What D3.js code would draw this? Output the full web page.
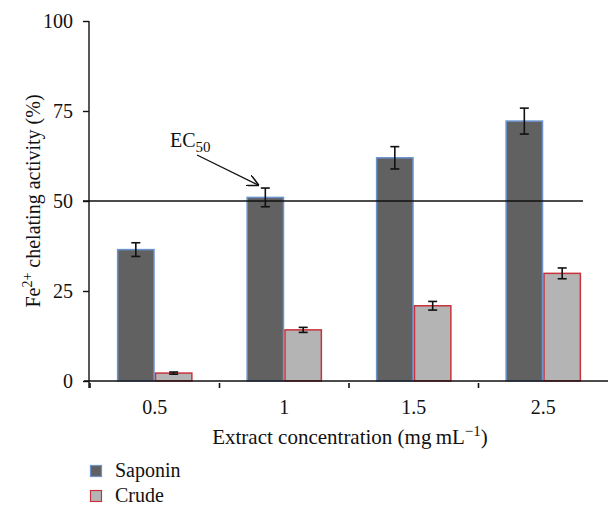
<!DOCTYPE html>
<html>
<head>
<meta charset="utf-8">
<script src="https://cdn.jsdelivr.net/npm/d3@7"></script>
<style>
body{margin:0;background:#fff;}
text{font-family:"Liberation Serif","DejaVu Serif",serif;fill:#111;}
</style>
</head>
<body>
<div id="plot"></div>
<script>
// chart values
var concentrations = ['0.5','1','1.5','2.5'];
var series = ['Saponin','Crude'];
var saponin = [36.5, 51, 62, 72.2];
var saponinErr = [1.9, 2.6, 3.1, 3.6];
var crude = [2.2, 14.2, 20.9, 29.9];
var crudeErr = [0.3, 0.7, 1.2, 1.5];
var yTicks = [0,25,50,75,100];
var ec50 = 50;

var W = 608, H = 505;
var margin = {t:21,l:89,b:124};
var serif = 'Liberation Serif, DejaVu Serif, serif';
var fills = {Saponin:'#616161', Crude:'#b4b4b4'};
var strokes = {Saponin:'#6a93cf', Crude:'#c8323c'};

var svg = d3.select('#plot').append('svg')
	.attr('width',W).attr('height',H);

var y = d3.scaleLinear().domain([0,100]).range([H-margin.b, margin.t]);
var x = d3.scaleBand().domain(concentrations).range([90, 608]).paddingInner(0).paddingOuter(0);
var xs = d3.scaleBand().domain(series).range([0, x.bandwidth()]).paddingInner(0).paddingOuter(0.71);

var rows = concentrations.map(function(c,i){
	return [
		{c:c, s:'Saponin', v:saponin[i], e:saponinErr[i]},
		{c:c, s:'Crude', v:crude[i], e:crudeErr[i]}
	];
});

// bars
var g = svg.selectAll('.grp').data(rows).enter().append('g')
	.attr('transform',function(d){return 'translate('+x(d[0].c)+',0)';});

g.selectAll('rect').data(function(d){return d;}).enter().append('rect')
	.attr('x',function(d){return xs(d.s)+0.75;})
	.attr('width',xs.bandwidth()-1.5)
	.attr('y',function(d){return y(d.v);})
	.attr('height',function(d){return y(0)-y(d.v);})
	.attr('fill',function(d){return fills[d.s];})
	.attr('stroke',function(d){return strokes[d.s];})
	.attr('stroke-width',1.5);

// error bars
var eb = g.selectAll('.err').data(function(d){return d;}).enter().append('g')
	.attr('class','err')
	.attr('stroke','#111').attr('stroke-width',1.6);
eb.append('line')
	.attr('x1',function(d){return xs(d.s)+xs.bandwidth()/2;})
	.attr('x2',function(d){return xs(d.s)+xs.bandwidth()/2;})
	.attr('y1',function(d){return y(d.v+d.e);})
	.attr('y2',function(d){return y(d.v-d.e);});
eb.selectAll('.cap').data(function(d){return [{d:d,v:d.v+d.e},{d:d,v:d.v-d.e}];}).enter().append('line')
	.attr('x1',function(k){return xs(k.d.s)+xs.bandwidth()/2-4.5;})
	.attr('x2',function(k){return xs(k.d.s)+xs.bandwidth()/2+4.5;})
	.attr('y1',function(k){return y(k.v);})
	.attr('y2',function(k){return y(k.v);});

// EC50 line
svg.append('line')
	.attr('x1',83).attr('x2',583)
	.attr('y1',y(ec50)).attr('y2',y(ec50))
	.attr('stroke','#111').attr('stroke-width',1.4);

// y axis
var yAxis = svg.append('g')
	.attr('transform','translate('+margin.l+',0)')
	.call(d3.axisLeft(y).tickValues(yTicks).tickSize(6).tickPadding(10));
yAxis.select('.domain').attr('d','M0,'+y(100)+'V'+(y(0)+7));
yAxis.selectAll('line').attr('stroke','#111').attr('stroke-width',1.4);
yAxis.select('.domain').attr('stroke','#111').attr('stroke-width',1.4);
yAxis.selectAll('text').attr('font-size',20).attr('font-family',serif).attr('fill','#111');

// x axis
var xAxis = svg.append('g')
	.attr('transform','translate(0,'+y(0)+')')
	.call(d3.axisBottom(x).tickSize(0).tickPadding(19));
xAxis.select('.domain').attr('d','M84,0H608').attr('stroke','#111').attr('stroke-width',1.4);
xAxis.selectAll('text').attr('font-size',20).attr('font-family',serif).attr('fill','#111');
xAxis.selectAll('.sep').data(concentrations).enter().append('line')
	.attr('class','sep')
	.attr('x1',function(d){return x(d);}).attr('x2',function(d){return x(d);})
	.attr('y1',2).attr('y2',7)
	.attr('stroke','#111').attr('stroke-width',1.6);

// axis titles
svg.append('text')
	.attr('x',350).attr('y',444)
	.attr('text-anchor','middle').attr('font-size',21).attr('font-family',serif)
	.html('Extract concentration (mg\u2009mL<tspan dy="-8" font-size="15">\u22121</tspan><tspan dy="8">)</tspan>');

svg.append('text')
	.attr('transform','translate(40,201) rotate(-90)')
	.attr('text-anchor','middle').attr('font-size',20).attr('font-family',serif)
	.html('Fe<tspan dy="-8" font-size="14">2+</tspan><tspan dy="8"> chelating activity (%)</tspan>');

// EC50 annotation
svg.append('defs').append('marker')
	.attr('id','arr').attr('viewBox','0 0 10 10')
	.attr('refX',9).attr('refY',5)
	.attr('markerWidth',9).attr('markerHeight',9)
	.attr('orient','auto')
	.append('path').attr('d','M0,0L10,5L0,10')
	.attr('fill','none').attr('stroke','#111').attr('stroke-width',1.3);

svg.append('line')
	.attr('x1',197).attr('y1',155)
	.attr('x2',258).attr('y2',185)
	.attr('stroke','#111').attr('stroke-width',1.3)
	.attr('marker-end','url(#arr)');

svg.append('text')
	.attr('x',170).attr('y',147).attr('font-size',20).attr('font-family',serif)
	.html('EC<tspan dy="5" font-size="15">50</tspan>');

// legend
var leg = svg.selectAll('.leg').data(series).enter().append('g')
	.attr('class','leg')
	.attr('transform',function(d,i){return 'translate(90,'+(465+i*25)+')';});
leg.append('rect')
	.attr('x',0.5).attr('y',0.5).attr('width',11).attr('height',11)
	.attr('fill',function(d){return fills[d];})
	.attr('stroke',function(d){return strokes[d];})
	.attr('stroke-width',1.2);
leg.append('text')
	.attr('x',25).attr('y',12).attr('font-size',20).attr('font-family',serif)
	.text(function(d){return d;});
</script>
</body>
</html>
